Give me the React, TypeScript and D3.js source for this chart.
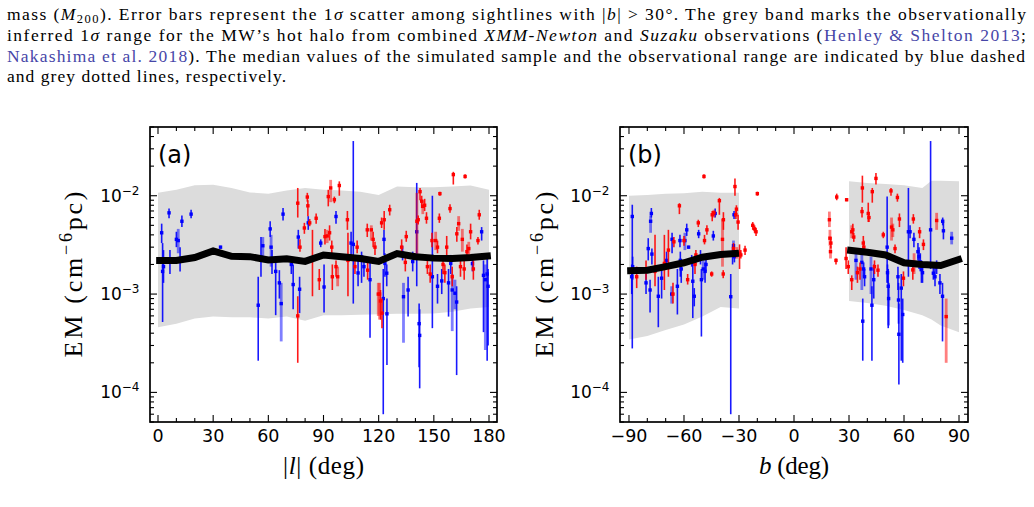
import React from "react";
import * as d3 from "d3";

// ---------------- data ----------------
// [x, EM, low, high, pale]
type Pt = number[];

const lTicks = [0, 30, 60, 90, 120, 150, 180];
const lTickLabels = ["0", "30", "60", "90", "120", "150", "180"];
const bTicks = [-90, -60, -30, 0, 30, 60, 90];
const bTickLabels = ["\u221290", "\u221260", "\u221230", "0", "30", "60", "90"];
const yTicks = [1e-4, 1e-3, 1e-2];
const yTickExp = ["\u22124", "\u22123", "\u22122"];

// panel (a) grey band and median
const bandAX = [0, 10, 20, 30, 40, 50, 60, 70, 80, 90, 100, 110, 120, 130, 140, 150, 160, 170, 180];
const bandAHi = [1.07e-2, 1.15e-2, 1.28e-2, 1.29e-2, 1.2e-2, 1.08e-2, 1.05e-2, 1.13e-2, 1.2e-2, 1.15e-2, 1.13e-2, 1.1e-2, 1.02e-2, 1.24e-2, 1.22e-2, 1.22e-2, 1.24e-2, 1.27e-2, 1.15e-2];
const bandALo = [4.6e-4, 5.0e-4, 5.65e-4, 5.9e-4, 5.8e-4, 5.8e-4, 5.65e-4, 5.9e-4, 5.35e-4, 6.1e-4, 6.1e-4, 6.15e-4, 6.25e-4, 6.3e-4, 6.3e-4, 6.35e-4, 6.6e-4, 7.15e-4, 7.4e-4];
const medAX = [-1, 10, 20, 30, 40, 50, 60, 70, 80, 90, 100, 110, 120, 130, 140, 150, 160, 170, 181];
const medA = [2.2e-3, 2.2e-3, 2.35e-3, 2.75e-3, 2.42e-3, 2.4e-3, 2.22e-3, 2.28e-3, 2.15e-3, 2.5e-3, 2.4e-3, 2.3e-3, 2.15e-3, 2.58e-3, 2.4e-3, 2.32e-3, 2.3e-3, 2.35e-3, 2.45e-3];

// panel (b) grey bands and medians
const bandBNX = [-90, -80, -70, -60, -50, -40, -30];
const bandBNHi = [1e-2, 1.02e-2, 1.05e-2, 1.06e-2, 1.1e-2, 1.07e-2, 1.07e-2];
const bandBNLo = [3.45e-4, 3.75e-4, 4.3e-4, 4.9e-4, 5.9e-4, 7.4e-4, 7.15e-4];
const medBNX = [-91, -80, -70, -60, -50, -40, -30];
const medBN = [1.73e-3, 1.75e-3, 1.9e-3, 2.08e-3, 2.37e-3, 2.52e-3, 2.6e-3];
const bandBPX = [30, 40, 50, 60, 70, 75, 80, 90];
const bandBPHi = [1.4e-2, 1.35e-2, 1.32e-2, 1.28e-2, 1.2e-2, 1.42e-2, 1.42e-2, 1.4e-2];
const bandBPLo = [8.5e-4, 8.1e-4, 7.6e-4, 6.9e-4, 6.1e-4, 5.5e-4, 4.8e-4, 4.1e-4];
const medBPX = [29, 40, 50, 60, 70, 80, 91.5];
const medBP = [2.8e-3, 2.66e-3, 2.5e-3, 2.08e-3, 2.0e-3, 1.95e-3, 2.3e-3];

const aBlue: Pt[] = [
  [2, 4.2e-3, 3.3e-3, 5.2e-3, 0], [2.5, 1.7e-3, 5.2e-4, 3.3e-3, 0], [3, 1.9e-3, 1.3e-3, 2.8e-3, 0],
  [6, 6.7e-3, 5.9e-3, 7.4e-3, 0], [6.5, 2.2e-3, 1.6e-3, 2.8e-3, 0], [10, 3.6e-3, 3e-3, 4.3e-3, 0],
  [11, 3.5e-3, 2.6e-3, 4.6e-3, 1], [12, 2.2e-3, 1.7e-3, 3e-3, 0], [13, 5.5e-3, 4.8e-3, 6.3e-3, 0],
  [18, 6.5e-3, 5.9e-3, 7.2e-3, 0], [34, 3e-3, 2.9e-3, 3.1e-3, 0], [54.5, 7.7e-4, 2.1e-4, 1.5e-3, 0],
  [56, 2.4e-3, 1.5e-3, 3.8e-3, 0], [57, 3.1e-3, 2.2e-3, 3.8e-3, 1], [61, 4.6e-3, 3.8e-3, 5.5e-3, 0],
  [61.5, 3e-3, 1.9e-3, 4e-3, 1], [62, 2.2e-3, 1.6e-3, 2.8e-3, 0], [64, 1.7e-3, 6.1e-4, 2.3e-3, 0],
  [66, 1.3e-3, 9e-4, 1.75e-3, 0], [67, 8e-4, 3.3e-4, 1.3e-3, 1], [68, 6.5e-3, 5.6e-3, 7.5e-3, 0],
  [72.5, 2e-3, 1.6e-3, 2.4e-3, 0], [73.5, 1.25e-3, 7e-4, 2e-3, 0], [76.3, 3.8e-3, 2.9e-3, 4.5e-3, 0],
  [77, 1.12e-3, 6.4e-4, 1.5e-3, 0], [81.7, 5.3e-3, 4.5e-3, 6.2e-3, 0], [88.5, 3.3e-3, 3e-3, 3.6e-3, 0],
  [90.3, 1.18e-3, 6.5e-4, 2e-3, 0], [96.8, 6.15e-3, 5.2e-3, 7e-3, 0], [105, 3.3e-3, 2.2e-3, 4.3e-3, 0],
  [106.2, 3.2e-3, 8e-4, 3.6e-2, 0], [108.8, 1.64e-3, 1.2e-3, 2.2e-3, 0], [110.7, 2.4e-3, 1.3e-3, 2.7e-3, 0],
  [112, 1.9e-3, 1.5e-3, 2.2e-3, 0], [115.3, 1.4e-3, 3.6e-4, 2.1e-3, 0], [122.5, 9e-4, 6e-5, 1.8e-3, 0],
  [122.9, 3.6e-3, 2.5e-3, 4.5e-3, 0], [123.4, 2.05e-3, 1.5e-3, 2.6e-3, 0], [124.4, 1.63e-3, 1.2e-3, 2e-3, 0],
  [124.5, 6.3e-4, 1.9e-4, 9e-4, 0], [133, 2.6e-3, 2.2e-3, 3.1e-3, 0], [133.5, 9.4e-4, 3.2e-4, 1.3e-3, 1],
  [136, 1.1e-3, 5.9e-4, 1.5e-3, 0], [138.5, 2.14e-3, 1.7e-3, 2.7e-3, 0], [140.7, 4.3e-3, 1.2e-3, 1.35e-2, 0],
  [142, 5e-4, 1.8e-4, 8e-4, 0], [142.3, 3.8e-4, 1.1e-4, 7e-4, 0], [149.2, 1.5e-3, 4.5e-4, 1e-2, 0],
  [152, 1.2e-3, 8e-4, 1.6e-3, 0], [154.3, 1.36e-3, 1e-3, 1.8e-3, 0], [158, 1.3e-3, 5.9e-4, 1.8e-3, 0],
  [159.2, 2.05e-3, 1.6e-3, 2.5e-3, 0], [160, 1.1e-3, 4.2e-4, 1.6e-3, 1], [161.5, 1.02e-3, 7e-4, 1.4e-3, 1],
  [162.4, 8.3e-4, 1.5e-4, 1.2e-3, 0], [171, 2.04e-3, 1.7e-3, 2.5e-3, 0], [176, 4.3e-3, 3.5e-3, 4.8e-3, 0],
  [177, 1.55e-3, 4.1e-4, 2.2e-3, 0], [178, 1.4e-3, 2.7e-4, 2e-3, 1], [179, 1.6e-3, 2.1e-4, 2.4e-3, 0],
  [179.5, 1.2e-3, 3e-4, 1.8e-3, 0],
];

const aRed: Pt[] = [
  [76, 8.4e-3, 6e-3, 1.2e-2, 0], [76, 6e-4, 2e-4, 9.5e-4, 0], [77.2, 3e-3, 2.7e-3, 3.6e-3, 0],
  [79.6, 4.7e-3, 4.1e-3, 5.3e-3, 0], [81.2, 9.7e-3, 8.7e-3, 1.07e-2, 0], [81.5, 7.9e-3, 6.2e-3, 9e-3, 0],
  [82.5, 5.3e-3, 4.9e-3, 5.8e-3, 0], [84, 2.33e-3, 9.5e-4, 4.5e-3, 0], [86, 5.9e-3, 5.2e-3, 6.6e-3, 0],
  [87.7, 1.4e-3, 1.1e-3, 1.8e-3, 0], [90.8, 3.84e-3, 3.2e-3, 4.6e-3, 0], [92, 3.9e-3, 3.3e-3, 4.5e-3, 1],
  [93.3, 4.2e-3, 3.5e-3, 5e-3, 0], [92.6, 9.8e-3, 7.8e-3, 1.15e-2, 0], [93.9, 1.2e-2, 8.6e-3, 1.45e-2, 1],
  [94.5, 3e-3, 2.6e-3, 3.5e-3, 0], [94.8, 1.5e-3, 1.1e-3, 2e-3, 0], [95.9, 9.1e-3, 8.4e-3, 9.8e-3, 0],
  [96.8, 1.9e-3, 1.5e-3, 2.2e-3, 0], [97.7, 1.5e-3, 1.2e-3, 1.9e-3, 1], [98.6, 1.27e-2, 1e-2, 1.4e-2, 0],
  [103, 5.7e-3, 4.5e-3, 7e-3, 0], [103.3, 2.2e-3, 9.5e-4, 4.2e-3, 0], [107.1, 1.9e-3, 1.6e-3, 2.3e-3, 0],
  [108.3, 3e-3, 2.6e-3, 3.5e-3, 0], [113.8, 4.5e-3, 3.8e-3, 5.2e-3, 0], [114, 1.75e-3, 1.4e-3, 2.2e-3, 0],
  [116, 4.5e-3, 3.5e-3, 5e-3, 1], [117, 3.6e-3, 3e-3, 4.3e-3, 0], [118, 3e-3, 2.5e-3, 3.4e-3, 0],
  [119.8, 1e-3, 6e-4, 1.3e-3, 1], [120.5, 1e-3, 5.5e-4, 1.3e-3, 1], [121, 8.5e-4, 5.5e-4, 1.1e-3, 0],
  [121.6, 5.3e-3, 4.7e-3, 6e-3, 0], [121.8, 6.4e-4, 4.5e-4, 9e-4, 0], [123, 5.7e-3, 4.5e-3, 7e-3, 0],
  [126, 7.2e-3, 6.3e-3, 8.1e-3, 0], [132.5, 3e-3, 2.5e-3, 3.6e-3, 0], [135, 3.84e-3, 3.4e-3, 4.4e-3, 0],
  [134.5, 2.1e-3, 1.7e-3, 2.4e-3, 0], [140.8, 5.5e-3, 2.5e-3, 1.07e-2, 1], [141.5, 5.7e-3, 5.1e-3, 6.3e-3, 0],
  [142.5, 1.1e-2, 9e-3, 1.2e-2, 0], [143.4, 8.8e-3, 7.5e-3, 1e-2, 0], [144, 7.8e-3, 6.5e-3, 9e-3, 1],
  [145, 8e-3, 7e-3, 9.3e-3, 0], [146, 5.9e-3, 5.2e-3, 6.8e-3, 0], [146.5, 1.9e-3, 1.6e-3, 2.3e-3, 0],
  [148, 1.6e-3, 1.3e-3, 2e-3, 0], [149, 3.5e-3, 3e-3, 4.2e-3, 0], [151, 3.5e-3, 2.8e-3, 4.3e-3, 1],
  [152, 3e-3, 2.6e-3, 3.5e-3, 0], [153, 5.9e-3, 5.3e-3, 6.6e-3, 0], [153.3, 1.05e-2, 1e-2, 1.1e-2, 0],
  [155, 2e-3, 1.6e-3, 2.4e-3, 0], [156, 1.65e-3, 1.3e-3, 2e-3, 0], [157, 3e-3, 2.3e-3, 3.9e-3, 0],
  [158.8, 7.4e-3, 6.7e-3, 8.2e-3, 0], [160, 1.5e-3, 1.2e-3, 1.9e-3, 0], [160.6, 1.64e-2, 1.3e-2, 1.75e-2, 0],
  [162.5, 4.1e-3, 3.4e-3, 4.8e-3, 0], [163.5, 5.2e-3, 4.4e-3, 6.2e-3, 1], [164.5, 1.9e-3, 1.5e-3, 2.3e-3, 0],
  [165.5, 3.6e-3, 2.7e-3, 4.6e-3, 1], [166.5, 1.8e-3, 1.4e-3, 2.2e-3, 0], [167, 1.57e-2, 1.5e-2, 1.65e-2, 0],
  [168, 2.7e-3, 2.3e-3, 3.2e-3, 0], [169, 2.9e-3, 2.4e-3, 3.4e-3, 1], [170, 4.3e-3, 3.6e-3, 5.2e-3, 0],
  [171.5, 1.8e-3, 1.4e-3, 2.2e-3, 0], [174, 3.5e-3, 3.2e-3, 3.8e-3, 0], [174.7, 6.4e-3, 5.7e-3, 7.2e-3, 0],
];

const bBlue: Pt[] = [
  [-88.2, 6.15e-3, 2.8e-4, 8.1e-3, 0], [-88.5, 1.5e-3, 1e-3, 2e-3, 0], [-88, 1.9e-3, 1.4e-3, 2.4e-3, 0],
  [-80.7, 1.3e-3, 1e-3, 1.6e-3, 0], [-79.5, 2.9e-3, 2.2e-3, 3.7e-3, 0], [-78.2, 5.5e-3, 4.2e-3, 6.3e-3, 1],
  [-77.8, 6.6e-3, 6e-3, 7.5e-3, 0], [-78.5, 1.1e-3, 6.5e-4, 1.4e-3, 0], [-77.5, 2.55e-3, 2e-3, 2.9e-3, 0],
  [-74, 9.5e-4, 4.6e-4, 1.5e-3, 0], [-72.2, 1.45e-3, 9e-4, 2e-3, 0], [-69.5, 2.2e-3, 1.8e-3, 2.7e-3, 0],
  [-66.7, 1e-3, 8e-4, 1.2e-3, 1], [-66.5, 3.6e-3, 2.6e-3, 4.2e-3, 0], [-63.6, 1.2e-3, 6.2e-4, 1.8e-3, 0],
  [-62.2, 3.5e-3, 3e-3, 4e-3, 0], [-62, 2.2e-3, 1.5e-3, 2.7e-3, 0], [-61.5, 1.8e-3, 1.3e-3, 2.2e-3, 0],
  [-59.5, 3.5e-3, 2.8e-3, 4.2e-3, 1], [-58.5, 4.5e-3, 3.9e-3, 5.2e-3, 0], [-57.5, 3e-3, 2.9e-3, 3.1e-3, 0],
  [-55.8, 2.2e-3, 1.9e-3, 2.5e-3, 0], [-55.2, 1.35e-3, 5.7e-4, 2.2e-3, 0], [-54.4, 9.5e-4, 7.5e-4, 1.15e-3, 0],
  [-52, 4.1e-3, 3.7e-3, 4.5e-3, 0], [-51, 2.4e-3, 2e-3, 2.8e-3, 0], [-50.5, 1.4e-3, 3.7e-4, 1.8e-3, 0],
  [-49.5, 1.8e-3, 1.4e-3, 2.2e-3, 1], [-48.5, 1.7e-3, 1.3e-3, 2.1e-3, 0], [-48, 2e-3, 1.7e-3, 2.4e-3, 0],
  [-44, 3.9e-3, 3.5e-3, 4.4e-3, 0], [-43, 6.6e-3, 6e-3, 7.4e-3, 0], [-34.5, 9.4e-4, 6e-5, 1.6e-3, 0],
  [-33.5, 2.5e-3, 2e-3, 3e-3, 0], [-33, 3.1e-3, 2.5e-3, 3.5e-3, 1], [-32.7, 6.4e-3, 5.8e-3, 7e-3, 0],
  [-32.5, 2.4e-3, 2.1e-3, 2.8e-3, 0],
  [33.8, 2.2e-3, 1.4e-3, 2.8e-3, 1], [37, 2.1e-3, 1.1e-3, 2.8e-3, 1], [37.5, 5.3e-4, 2.1e-4, 9e-4, 0],
  [38, 1.8e-3, 1.5e-3, 2.1e-3, 0], [38.5, 1.5e-3, 1.2e-3, 1.8e-3, 0], [42, 1.8e-3, 1e-3, 2.4e-3, 1],
  [42.5, 7.7e-4, 2.1e-4, 1.2e-3, 0], [43.5, 1.4e-3, 9e-4, 2e-3, 0], [50.8, 3e-3, 1.3e-3, 9.8e-3, 0],
  [51, 1.65e-3, 1.3e-3, 2e-3, 0], [51.4, 1.2e-3, 4.5e-4, 1.8e-3, 0], [51.6, 9e-4, 4.8e-4, 1.3e-3, 1],
  [56.7, 1.5e-3, 1.1e-3, 1.9e-3, 0], [57.2, 3.9e-4, 1.2e-4, 8e-4, 0], [57, 8.7e-4, 5e-4, 1.3e-3, 0],
  [58.5, 1.15e-3, 2.1e-4, 1.6e-3, 0], [59.3, 6.2e-4, 2e-4, 9e-4, 0], [62.4, 4.3e-3, 1.5e-3, 1.2e-2, 0],
  [63.3, 4.3e-3, 3.7e-3, 5e-3, 0], [65.4, 3.6e-3, 3e-3, 4.2e-3, 0], [67.6, 2.7e-3, 2.2e-3, 3.3e-3, 0],
  [68.2, 2.4e-3, 1.8e-3, 3e-3, 0], [68.9, 2.1e-3, 1.7e-3, 2.6e-3, 0], [69.5, 1.8e-3, 1.3e-3, 2.2e-3, 0],
  [70.1, 1.65e-3, 1.3e-3, 2e-3, 0], [74.5, 4.5e-3, 1.8e-3, 3.6e-2, 0], [76, 1.63e-3, 1.4e-3, 2e-3, 0],
  [76.9, 1.5e-3, 1.2e-3, 1.9e-3, 0], [77.8, 1.9e-3, 1.6e-3, 2.2e-3, 0], [79.6, 1.3e-3, 1e-3, 1.6e-3, 0],
  [81.1, 5.5e-3, 5e-3, 6e-3, 0], [81.5, 4.4e-3, 3.6e-3, 5.3e-3, 0], [81, 9.5e-4, 3.3e-4, 1.3e-3, 0],
  [86, 3.7e-3, 3.2e-3, 4.3e-3, 1],
];

const bRed: Pt[] = [
  [-85.8, 1.5e-3, 1.15e-3, 1.9e-3, 0], [-80.7, 1.76e-3, 1.4e-3, 2.2e-3, 0], [-75.8, 1.7e-3, 1.2e-3, 4e-3, 0],
  [-70.7, 2.05e-3, 1.1e-3, 4e-3, 0], [-68.5, 2.8e-3, 1.5e-3, 4.5e-3, 0], [-66, 1e-3, 8e-4, 1.3e-3, 0],
  [-65.5, 3.4e-3, 3e-3, 3.8e-3, 0], [-62.5, 7.9e-3, 6.5e-3, 8.4e-3, 0], [-60, 3.5e-3, 3.1e-3, 3.9e-3, 0],
  [-58, 1.4e-3, 1.25e-3, 1.6e-3, 0], [-54, 2e-3, 1.6e-3, 2.4e-3, 0], [-53.5, 2.5e-3, 2e-3, 2.8e-3, 0],
  [-52.2, 5.3e-3, 4.8e-3, 5.7e-3, 0], [-49.1, 1.57e-2, 1.5e-2, 1.65e-2, 0], [-48.8, 3.5e-3, 3.2e-3, 4e-3, 0],
  [-47.5, 4.5e-3, 4e-3, 5e-3, 0], [-44.9, 1.6e-3, 1.5e-3, 1.7e-3, 0], [-44.6, 6.4e-3, 5.5e-3, 7e-3, 0],
  [-43.7, 6.7e-3, 6e-3, 7.2e-3, 1], [-40.7, 8.9e-3, 6.4e-3, 9.5e-3, 0], [-39, 3.6e-3, 1.9e-3, 5.8e-3, 1],
  [-38.5, 5.7e-3, 4.5e-3, 6.8e-3, 0], [-38.6, 1.6e-3, 1.45e-3, 1.75e-3, 0], [-33, 2.9e-3, 2.6e-3, 3.3e-3, 0],
  [-32.2, 1.24e-2, 1e-2, 1.5e-2, 0], [-31.7, 6.4e-3, 5.8e-3, 7e-3, 0], [-31.4, 7.3e-3, 6.5e-3, 8e-3, 0],
  [-31.2, 2.6e-3, 2.3e-3, 3e-3, 1], [-30.5, 5.4e-3, 4.5e-3, 6.4e-3, 0], [-29.7, 2.6e-3, 1.8e-3, 3.2e-3, 0],
  [-29, 2.5e-3, 2.3e-3, 2.8e-3, 0], [-26.7, 2.8e-3, 2.5e-3, 3.1e-3, 0], [-22.5, 5.0e-3, 4.5e-3, 5.4e-3, 0],
  [-21.5, 4.6e-3, 4.2e-3, 5e-3, 0], [-20.7, 4.3e-3, 3.9e-3, 4.7e-3, 0], [-20, 1.05e-2, 1e-2, 1.1e-2, 0],
  [19.6, 3.7e-3, 3.1e-3, 4.5e-3, 1], [19.3, 5.7e-3, 4.8e-3, 6.9e-3, 1], [20.1, 3.3e-3, 2.9e-3, 3.8e-3, 0],
  [19.9, 2.7e-3, 2.3e-3, 3.1e-3, 1], [22.9, 2.2e-3, 2e-3, 2.3e-3, 0], [23.3, 9.7e-3, 9e-3, 1.05e-2, 0],
  [28.7, 9.1e-3, 8.8e-3, 9.4e-3, 0], [28.4, 2.3e-3, 1.8e-3, 3e-3, 0], [29.6, 1.9e-3, 1.6e-3, 2.2e-3, 0],
  [31.5, 4.3e-3, 3.7e-3, 5e-3, 1], [32.1, 4.5e-3, 4e-3, 5.2e-3, 0], [32.6, 3.8e-3, 3.4e-3, 4.2e-3, 0],
  [31.5, 1.4e-3, 1.1e-3, 1.55e-3, 0], [34.6, 1.65e-3, 1.3e-3, 1.9e-3, 0], [36, 1.8e-3, 1.4e-3, 2.1e-3, 0],
  [37.3, 1.2e-2, 8.5e-3, 1.6e-2, 0], [37.1, 6.9e-3, 6e-3, 7.7e-3, 0], [37.8, 3.3e-3, 2.9e-3, 3.9e-3, 0],
  [38.1, 3e-3, 2.6e-3, 3.5e-3, 0], [40.5, 6.6e-3, 5.4e-3, 8.5e-3, 0], [40.9, 6e-3, 5.4e-3, 6.5e-3, 0],
  [42.7, 1.1e-2, 8.5e-3, 1.2e-2, 0], [44.7, 1.5e-2, 1.3e-2, 1.7e-2, 0], [43.9, 1.9e-3, 1.6e-3, 2.2e-3, 0],
  [45.8, 1.75e-3, 1.5e-3, 2e-3, 0], [48.7, 4e-3, 3.7e-3, 4.3e-3, 0], [52.9, 1.12e-2, 1e-2, 1.2e-2, 0],
  [53.2, 4.8e-3, 3.5e-3, 6e-3, 1], [53.9, 4.5e-3, 3.8e-3, 5.2e-3, 1], [55.1, 2.9e-3, 2.6e-3, 3.2e-3, 0],
  [56.4, 9.6e-3, 8.7e-3, 1.05e-2, 0], [57.5, 5.8e-3, 4.8e-3, 6.6e-3, 0], [59.7, 1.45e-3, 1.2e-3, 1.7e-3, 0],
  [65.1, 5.8e-3, 5.2e-3, 6.5e-3, 0], [64.8, 1.76e-3, 1.4e-3, 2.1e-3, 0], [65.5, 2e-3, 1.6e-3, 2.6e-3, 1],
  [68.5, 4.3e-3, 3.7e-3, 4.8e-3, 0], [70.6, 3.2e-3, 2.8e-3, 3.6e-3, 0], [77.8, 5.6e-3, 4.5e-3, 6.7e-3, 1],
  [83, 5.9e-4, 2e-4, 9e-4, 1],
];

// ---------------- layout ----------------
const TOP = 127;
const BOTTOM = 422;
const yScale = d3.scaleLog().domain([5e-5, 5e-2]).range([BOTTOM, TOP]);
const SERIF = "'Liberation Serif', 'DejaVu Serif', serif";
const SANS = "'DejaVu Sans', sans-serif";
const LINK = "#4646a8";

type Band = { xs: number[]; lo: number[]; hi: number[] };
type Med = { xs: number[]; ys: number[] };

interface PanelProps {
  id: string;
  left: number;
  right: number;
  xDomain: [number, number];
  xTicks: number[];
  xTickLabels: string[];
  bands: Band[];
  meds: Med[];
  blue: Pt[];
  red: Pt[];
  tag: string;
  xLabel: React.ReactNode;
  xLabelWidth: number;
  yLabelX: number;
}

function Points({ pts, color, x }: { pts: Pt[]; color: string; x: (v: number) => number }) {
  const y = yScale;
  return (
    <g>
      {pts.map((p, i) => {
        const px = x(p[0]);
        const pale = p[4] === 1;
        return (
          <g key={i}>
            <line
              x1={px}
              x2={px}
              y1={y(p[2])}
              y2={y(p[3])}
              stroke={color}
              strokeWidth={pale ? 2.8 : 1.6}
              strokeOpacity={pale ? 0.5 : 0.9}
            />
            <rect x={px - 1.7} y={y(p[1]) - 1.7} width={3.4} height={3.4} fill={color} />
          </g>
        );
      })}
    </g>
  );
}

function Panel(p: PanelProps) {
  const x = d3.scaleLinear().domain(p.xDomain).range([p.left, p.right]);
  const y = yScale;
  const area = d3
    .area<[number, number, number]>()
    .x((d) => x(d[0]))
    .y0((d) => y(d[1]))
    .y1((d) => y(d[2]));
  const line = d3
    .line<[number, number]>()
    .x((d) => x(d[0]))
    .y((d) => y(d[1]));

  const minorX = d3
    .range(Math.ceil(p.xDomain[0] / 10) * 10, p.xDomain[1], 10)
    .filter((v) => !p.xTicks.includes(v));
  const minorY: number[] = [];
  [-5, -4, -3, -2].forEach((e) => {
    for (let k = 2; k <= 9; k++) {
      const v = k * Math.pow(10, e);
      if (v >= 5e-5 && v <= 5e-2) minorY.push(v);
    }
  });
  const MAJ = 7;
  const MIN = 4;
  const cx = (p.left + p.right) / 2;

  return (
    <g>
      <defs>
        <clipPath id={`clip-${p.id}`}>
          <rect x={p.left} y={TOP} width={p.right - p.left} height={BOTTOM - TOP} />
        </clipPath>
      </defs>
      <g clipPath={`url(#clip-${p.id})`}>
        {p.bands.map((b, i) => (
          <path
            key={i}
            d={area(b.xs.map((v, j) => [v, b.lo[j], b.hi[j]] as [number, number, number])) || ""}
            fill="#dcdcdc"
          />
        ))}
        <Points pts={p.blue} color="#0000ff" x={x} />
        <Points pts={p.red} color="#ff0000" x={x} />
        {p.meds.map((m, i) => (
          <path
            key={i}
            d={line(m.xs.map((v, j) => [v, m.ys[j]] as [number, number])) || ""}
            fill="none"
            stroke="#000"
            strokeWidth={7}
            strokeLinejoin="miter"
          />
        ))}
      </g>
      {/* ticks */}
      <g stroke="#000" strokeWidth={1.1}>
        {p.xTicks.map((t) => (
          <g key={`xt${t}`}>
            <line x1={x(t)} x2={x(t)} y1={BOTTOM} y2={BOTTOM - MAJ} />
            <line x1={x(t)} x2={x(t)} y1={TOP} y2={TOP + MAJ} />
          </g>
        ))}
        {minorX.map((t) => (
          <g key={`xm${t}`}>
            <line x1={x(t)} x2={x(t)} y1={BOTTOM} y2={BOTTOM - MIN} />
            <line x1={x(t)} x2={x(t)} y1={TOP} y2={TOP + MIN} />
          </g>
        ))}
        {yTicks.map((t) => (
          <g key={`yt${t}`}>
            <line x1={p.left} x2={p.left + MAJ} y1={y(t)} y2={y(t)} />
            <line x1={p.right} x2={p.right - MAJ} y1={y(t)} y2={y(t)} />
          </g>
        ))}
        {minorY.map((t) => (
          <g key={`ym${t}`}>
            <line x1={p.left} x2={p.left + MIN} y1={y(t)} y2={y(t)} />
            <line x1={p.right} x2={p.right - MIN} y1={y(t)} y2={y(t)} />
          </g>
        ))}
      </g>
      <rect
        x={p.left}
        y={TOP}
        width={p.right - p.left}
        height={BOTTOM - TOP}
        fill="none"
        stroke="#000"
        strokeWidth={1.7}
      />
      {/* tick labels */}
      <g fontFamily={SANS} fontSize={17.5} fill="#000">
        {p.xTicks.map((t, i) => (
          <text key={`xl${t}`} x={x(t)} y={441.5} textAnchor="middle">
            {p.xTickLabels[i]}
          </text>
        ))}
      </g>
      <g fontFamily={SANS} fill="#000">
        {yTicks.map((t, i) => (
          <text key={`yl${t}`} x={p.left - 10.5} y={y(t) + 5.8} textAnchor="end" fontSize={17}>
            <tspan>10</tspan>
            <tspan fontSize={12} dy={-7}>
              {yTickExp[i]}
            </tspan>
          </text>
        ))}
      </g>
      <text x={p.left + 8} y={163} fontFamily={SANS} fontSize={24} fill="#000">
        {p.tag}
      </text>
      {/* axis labels */}
      <text
        x={cx}
        y={474}
        textAnchor="middle"
        fontFamily={SERIF}
        fontSize={25}
        textLength={p.xLabelWidth}
        lengthAdjust="spacing"
        fill="#000"
      >
        {p.xLabel}
      </text>
      <text
        transform={`translate(${p.yLabelX},${(TOP + BOTTOM) / 2}) rotate(-90)`}
        textAnchor="middle"
        fontFamily={SERIF}
        fontSize={26}
        textLength={166}
        lengthAdjust="spacing"
        fill="#000"
      >
        <tspan>EM (cm</tspan>
        <tspan fontSize={18} dy={-10}>
          {"\u22126"}
        </tspan>
        <tspan dy={10}>pc)</tspan>
      </text>
    </g>
  );
}

function Caption() {
  const common = {
    fontFamily: SERIF,
    fontSize: 17.5,
    fill: "#000",
  };
  return (
    <g>
      <text x={7} y={19.5} {...common} textLength={1019} lengthAdjust="spacing">
        <tspan>mass (</tspan>
        <tspan fontStyle="italic">M</tspan>
        <tspan fontSize={12.5} dy={3}>200</tspan>
        <tspan dy={-3}>). Error bars represent the 1</tspan>
        <tspan fontStyle="italic">{"\u03c3"}</tspan>
        <tspan> scatter among sightlines with |</tspan>
        <tspan fontStyle="italic">b</tspan>
        <tspan>{"| > 30\u00b0. The grey band marks the observationally"}</tspan>
      </text>
      <text x={7} y={40.5} {...common} textLength={1019} lengthAdjust="spacing">
        <tspan>inferred 1</tspan>
        <tspan fontStyle="italic">{"\u03c3"}</tspan>
        <tspan>{" range for the MW\u2019s hot halo from combined "}</tspan>
        <tspan fontStyle="italic">XMM-Newton</tspan>
        <tspan> and </tspan>
        <tspan fontStyle="italic">Suzaku</tspan>
        <tspan> observations (</tspan>
        <tspan fill={LINK}>{"Henley & Shelton 2013"}</tspan>
        <tspan>;</tspan>
      </text>
      <text x={7} y={61.5} {...common} textLength={1018} lengthAdjust="spacing">
        <tspan fill={LINK}>Nakashima et al. 2018</tspan>
        <tspan>
          ). The median values of the simulated sample and the observational range are indicated by blue dashed
        </tspan>
      </text>
      <text x={7} y={82} {...common} textLength={279} lengthAdjust="spacing">
        and grey dotted lines, respectively.
      </text>
    </g>
  );
}

export default function App() {
  return (
    <svg
      width={1034}
      height={507}
      viewBox="0 0 1034 507"
      style={{ position: "absolute", left: 0, top: 0, background: "#fff" }}
    >
      <rect x={0} y={0} width={1034} height={507} fill="#fff" />
      <Caption />
      <Panel
        id="a"
        left={150}
        right={497}
        xDomain={[-4.35, 184.35]}
        xTicks={lTicks}
        xTickLabels={lTickLabels}
        bands={[{ xs: bandAX, lo: bandALo, hi: bandAHi }]}
        meds={[{ xs: medAX, ys: medA }]}
        blue={aBlue}
        red={aRed}
        tag="(a)"
        xLabel={
          <>
            <tspan>|</tspan>
            <tspan fontStyle="italic">l</tspan>
            <tspan>| (deg)</tspan>
          </>
        }
        xLabelWidth={81}
        yLabelX={82}
      />
      <Panel
        id="b"
        left={620}
        right={968}
        xDomain={[-94.9, 94.9]}
        xTicks={bTicks}
        xTickLabels={bTickLabels}
        bands={[
          { xs: bandBNX, lo: bandBNLo, hi: bandBNHi },
          { xs: bandBPX, lo: bandBPLo, hi: bandBPHi },
        ]}
        meds={[
          { xs: medBNX, ys: medBN },
          { xs: medBPX, ys: medBP },
        ]}
        blue={bBlue}
        red={bRed}
        tag="(b)"
        xLabel={
          <>
            <tspan fontStyle="italic">b</tspan>
            <tspan> (deg)</tspan>
          </>
        }
        xLabelWidth={70}
        yLabelX={553}
      />
    </svg>
  );
}
